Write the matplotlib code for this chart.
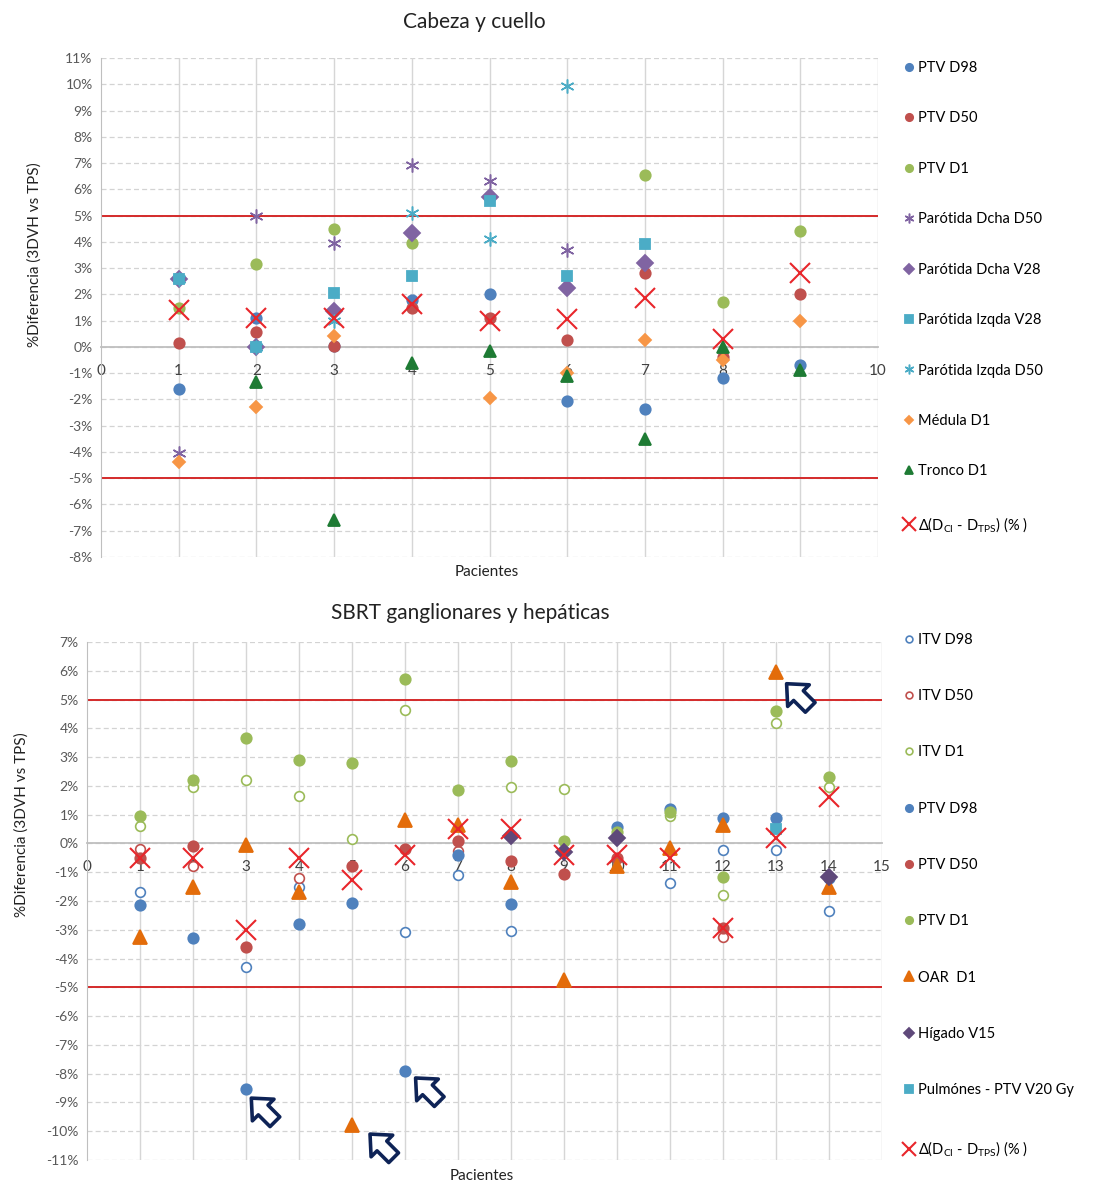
import matplotlib
matplotlib.use("Agg")
import matplotlib.pyplot as plt
from matplotlib.ticker import FuncFormatter, MultipleLocator
import numpy as np

nan = np.nan

# --- Cabeza y cuello (patients 1-9), % difference ---
hn_patients = [1, 2, 3, 4, 5, 6, 7, 8, 9]
hn_ptv_d98 = [-1.6, 1.1, 0.05, 1.8, 2.0, -2.05, -2.35, -1.2, -0.7]
hn_ptv_d50 = [0.15, 0.55, 0.05, 1.5, 1.1, 0.27, 2.8, -0.4, 2.0]
hn_ptv_d1 = [1.5, 3.15, 4.5, 3.95, nan, nan, 6.55, 1.7, 4.4]
hn_par_dcha_d50 = [-4.05, 5.0, 3.95, 6.93, 6.3, 3.7, nan, nan, nan]
hn_par_dcha_v28 = [2.6, 0.0, 1.35, 4.35, 5.7, 2.25, 3.2, nan, nan]
hn_par_izq_v28 = [2.6, 0.0, 2.05, 2.7, 5.55, 2.7, 3.9, nan, nan]
hn_par_izq_d50 = [2.6, 0.0, 1.0, 5.1, 4.1, 9.95, nan, nan, nan]
hn_medula_d1 = [-4.4, -2.3, 0.4, nan, -1.95, -1.0, 0.25, -0.5, 1.0]
hn_tronco_d1 = [nan, -1.35, -6.6, -0.6, -0.15, -1.1, -3.5, 0.0, -0.88]
hn_delta = [1.4, 1.1, 1.1, 1.65, 1.0, 1.05, 1.85, 0.3, 2.8]

# --- SBRT ganglionares y hepáticas (patients 1-14) ---
sb_patients = list(range(1, 15))
sb_itv_d98 = [-1.7, nan, -4.3, -1.5, nan, -3.07, -1.1, -3.05, nan, nan, -1.37, -0.22, -0.22, -2.35]
sb_itv_d50 = [-0.2, -0.8, nan, -1.2, nan, nan, -0.25, nan, nan, nan, nan, -3.25, nan, nan]
sb_itv_d1 = [0.6, 1.95, 2.2, 1.65, 0.15, 4.65, nan, 1.95, 1.9, nan, 0.95, -1.8, 4.2, 1.95]
sb_ptv_d98 = [-2.15, -3.3, -8.55, -2.8, -2.07, -7.9, -0.4, -2.1, nan, 0.57, 1.2, 0.9, 0.9, -1.2]
sb_ptv_d50 = [-0.5, -0.1, -3.6, nan, -0.8, -0.2, 0.08, -0.6, -1.05, -0.5, nan, -2.95, nan, nan]
sb_ptv_d1 = [0.95, 2.2, 3.65, 2.9, 2.8, 5.7, 1.85, 2.85, 0.1, 0.4, 1.1, -1.17, 4.6, 2.3]
sb_oar_d1 = [-3.25, -1.5, -0.05, -1.7, -9.8, 0.8, 0.65, -1.35, -4.75, -0.8, -0.15, 0.65, 5.95, -1.5]
sb_higado_v15 = [nan, nan, nan, nan, nan, nan, nan, 0.25, -0.3, 0.2, nan, nan, nan, -1.15]
sb_pulmones_v20 = [nan, nan, nan, nan, nan, nan, nan, nan, nan, nan, nan, nan, 0.5, nan]
sb_delta = [-0.5, -0.5, -3.0, -0.5, -1.27, -0.4, 0.5, 0.5, -0.4, -0.4, -0.5, -2.95, 0.2, 1.6]

# tips of the callout arrows (x, y) in the SBRT panel
arrow_tips = [(3.1, -8.85), (5.34, -10.1), (6.2, -8.15), (13.2, 5.55)]

plt.rcParams['font.family'] = ['Lato', 'DejaVu Sans']
plt.rcParams['mathtext.fontset'] = 'custom'
plt.rcParams['mathtext.rm'] = 'Lato'
plt.rcParams['mathtext.it'] = 'Lato:italic'

BLUE = '#4F81BD'
RED = '#C0504D'
GREEN = '#9BBB59'
PURPLE = '#8064A2'
AQUA = '#4BACC6'
ORANGE = '#F79646'
DKGREEN = '#1E7B34'
OAR_ORANGE = '#E36C0A'
DKPURPLE = '#5F497A'
XRED = '#E8262B'
LIMIT = '#D42A2A'
TICK = '#595959'

delta_label = r'$\Delta$(D$_{\mathrm{CI}}$ - D$_{\mathrm{TPS}}$) (% )'
star = (6, 2, 0)

fig = plt.figure(figsize=(11.04, 11.86), dpi=100)
ax1 = fig.add_axes([101 / 1104, 1 - 557 / 1186, 777 / 1104, 499 / 1186])
ax2 = fig.add_axes([87 / 1104, 1 - 1160 / 1186, 795 / 1104, 518 / 1186])


def style_axes(ax, xmax, ymin, ymax):
    ax.set_xlim(0, xmax)
    ax.set_ylim(ymin, ymax)
    ax.xaxis.set_major_locator(MultipleLocator(1))
    ax.yaxis.set_major_locator(MultipleLocator(1))
    ax.yaxis.set_major_formatter(FuncFormatter(lambda v, p: f'{v:.0f}%'))
    for y in range(ymin, ymax + 1):
        ax.axhline(y, color='#D3D3D3', lw=0.9, ls=(0, (4, 2.5)), zorder=0)
    for x in range(1, xmax + 1):
        ax.axvline(x, color='#D6D6D6', lw=1.0, zorder=0)
    ax.axhline(5, color=LIMIT, lw=1.4, zorder=1)
    ax.axhline(-5, color=LIMIT, lw=1.4, zorder=1)
    for s in ['top', 'right']:
        ax.spines[s].set_visible(False)
    ax.spines['bottom'].set_position(('data', 0))
    ax.spines['bottom'].set_color('#BFBFBF')
    ax.spines['bottom'].set_linewidth(1.3)
    ax.spines['bottom'].set_zorder(1)
    ax.spines['left'].set_color('#BFBFBF')
    ax.tick_params(axis='x', length=0, pad=12, labelsize=11, labelcolor='#404040')
    ax.tick_params(axis='y', length=0, pad=6, labelsize=10, labelcolor=TICK)
    ax.set_xticks(range(0, xmax + 1))
    ax.set_xticklabels([str(i) for i in range(0, xmax + 1)])


def dots(ax, x, y, label, marker, color, size, filled=True, mew=1.3):
    ax.plot(x, y, ls='none', marker=marker, ms=size, label=label,
            mfc=color if filled else 'white', mec=color, mew=mew, zorder=3)


# ---- top panel ----
style_axes(ax1, 10, -8, 11)
dots(ax1, hn_patients, hn_ptv_d98, 'PTV D98', 'o', BLUE, 7.5)
dots(ax1, hn_patients, hn_ptv_d50, 'PTV D50', 'o', RED, 7.5)
dots(ax1, hn_patients, hn_ptv_d1, 'PTV D1', 'o', GREEN, 7.5)
dots(ax1, hn_patients, hn_par_dcha_d50, 'Parótida Dcha D50', star, PURPLE, 10, mew=1.1)
dots(ax1, hn_patients, hn_par_dcha_v28, 'Parótida Dcha V28', 'D', PURPLE, 8)
dots(ax1, hn_patients, hn_par_izq_v28, 'Parótida Izqda V28', 's', AQUA, 7.5)
dots(ax1, hn_patients, hn_par_izq_d50, 'Parótida Izqda D50', star, AQUA, 10, mew=1.1)
dots(ax1, hn_patients, hn_medula_d1, 'Médula D1', 'D', ORANGE, 6.5)
dots(ax1, hn_patients, hn_tronco_d1, 'Tronco D1', '^', DKGREEN, 8.5)
dots(ax1, hn_patients, hn_delta, delta_label, 'x', XRED, 14, mew=1.5)

# ---- bottom panel ----
style_axes(ax2, 15, -11, 7)
dots(ax2, sb_patients, sb_itv_d98, 'ITV D98', 'o', BLUE, 7, filled=False, mew=1.2)
dots(ax2, sb_patients, sb_itv_d50, 'ITV D50', 'o', RED, 7, filled=False, mew=1.2)
dots(ax2, sb_patients, sb_itv_d1, 'ITV D1', 'o', GREEN, 7, filled=False, mew=1.2)
dots(ax2, sb_patients, sb_ptv_d98, 'PTV D98', 'o', BLUE, 7.5)
dots(ax2, sb_patients, sb_ptv_d50, 'PTV D50', 'o', RED, 7.5)
dots(ax2, sb_patients, sb_ptv_d1, 'PTV D1', 'o', GREEN, 7.5)
dots(ax2, sb_patients, sb_oar_d1, 'OAR  D1', '^', OAR_ORANGE, 10)
dots(ax2, sb_patients, sb_higado_v15, 'Hígado V15', 'D', DKPURPLE, 8)
dots(ax2, sb_patients, sb_pulmones_v20, 'Pulmónes - PTV V20 Gy', 's', AQUA, 7.5)
dots(ax2, sb_patients, sb_delta, delta_label, 'x', XRED, 14, mew=1.5)

for tip in arrow_tips:
    ax2.annotate('', xy=tip, xytext=(17, -17), textcoords='offset points',
                 xycoords='data',
                 arrowprops=dict(arrowstyle='simple,head_length=0.55,head_width=1.0,tail_width=0.45',
                                 fc='white', ec='#0E2356', lw=2.6, mutation_scale=22,
                                 shrinkA=0, shrinkB=0),
                 zorder=5)

# legends on the right
ax1.legend(loc='upper left', bbox_to_anchor=(896 / 1104, 1 - 55 / 1186),
           bbox_transform=fig.transFigure, frameon=False, fontsize=10.5,
           labelspacing=2.5, handletextpad=0.1, handlelength=1.0, markerscale=0.7,
           borderaxespad=0)
ax2.legend(loc='upper left', bbox_to_anchor=(896 / 1104, 1 - 627 / 1186),
           bbox_transform=fig.transFigure, frameon=False, fontsize=10.5,
           labelspacing=2.9, handletextpad=0.1, handlelength=1.0, markerscale=0.7,
           borderaxespad=0)

# titles and axis labels
fig.text(474 / 1104, 1 - 22 / 1186, 'Cabeza y cuello', ha='center', va='center',
         fontsize=15, color='#222222')
fig.text(470 / 1104, 1 - 613 / 1186, 'SBRT ganglionares y hepáticas', ha='center',
         va='center', fontsize=15, color='#222222')

ax1.text(0.497, -0.03, 'Pacientes', transform=ax1.transAxes, ha='center', va='center',
         fontsize=11, color='#222222')
ax2.text(0.497, -0.031, 'Pacientes', transform=ax2.transAxes, ha='center', va='center',
         fontsize=11, color='#222222')

ax1.text(-0.085, 0.605, '%Diferencia (3DVH vs TPS)', transform=ax1.transAxes,
         rotation=90, ha='center', va='center', fontsize=11, color='#222222')
ax2.text(-0.082, 0.647, '%Diferencia (3DVH vs TPS)', transform=ax2.transAxes,
         rotation=90, ha='center', va='center', fontsize=11, color='#222222')

fig.savefig('out.png', dpi=100, facecolor='white')
